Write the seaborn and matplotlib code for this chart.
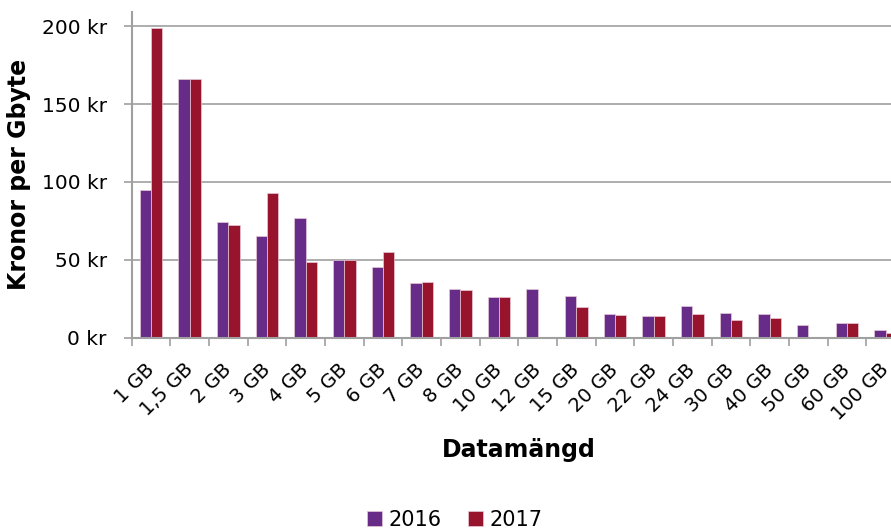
import numpy as np
import pandas as pd
import matplotlib
matplotlib.use("Agg")
import matplotlib.pyplot as plt
import seaborn as sns
from matplotlib.ticker import FixedLocator, FuncFormatter

# data
categories = ["1 GB", "1,5 GB", "2 GB", "3 GB", "4 GB", "5 GB", "6 GB", "7 GB",
              "8 GB", "10 GB", "12 GB", "15 GB", "20 GB", "22 GB", "24 GB",
              "30 GB", "40 GB", "50 GB", "60 GB", "100 GB"]
values_2016 = [95, 166, 74, 65, 77, 50, 45, 35, 31, 26, 31, 26.5, 15, 13.5,
               20.5, 16, 15, 8, 9.5, 5]
values_2017 = [199, 166, 72.5, 93, 48.5, 50, 55, 35.5, 30.5, 26, np.nan, 19.5,
               14.5, 13.5, 15, 11.5, 12.5, np.nan, 9.5, 3]
years = ["2016", "2017"]
colors = ["#662C88", "#98132C"]

df = pd.DataFrame({
    "Datamängd": categories * 2,
    "Kronor": values_2016 + values_2017,
    "År": [years[0]] * len(categories) + [years[1]] * len(categories),
})

sns.set_style("white")
plt.rcParams["font.family"] = ["DejaVu Sans"]
plt.rcParams["text.color"] = "black"
plt.rcParams["xtick.color"] = "black"
plt.rcParams["ytick.color"] = "black"
plt.rcParams["axes.labelcolor"] = "black"

fig = plt.figure(figsize=(8.91, 5.29), dpi=100)
ax = fig.add_axes([131.7 / 891, 1 - 337.5 / 529, 773.4 / 891, (337.5 - 11.5) / 529])

sns.barplot(data=df, x="Datamängd", y="Kronor", hue="År", palette=colors,
            width=0.587, gap=0, ax=ax, edgecolor="#e8c8d8", linewidth=0.5,
            saturation=1, legend=True)

ax.set_ylim(0, 209.5)
ax.set_xlim(-0.5, len(categories) - 0.5)
ax.yaxis.set_major_locator(FixedLocator([0, 50, 100, 150, 200]))
ax.yaxis.set_major_formatter(FuncFormatter(lambda v, p: f"{int(v)} kr"))
ax.grid(axis="y", color="#a0a0a0", linewidth=1.2)
ax.set_axisbelow(True)

for side in ["top", "right"]:
    ax.spines[side].set_visible(False)
for side in ["left", "bottom"]:
    ax.spines[side].set_color("#a0a0a0")
    ax.spines[side].set_linewidth(1.5)

ax.tick_params(axis="y", which="major", length=6, color="#a0a0a0", width=1.2,
               labelsize=14.5, labelcolor="black", pad=12, left=True)
ax.set_xticks(range(len(categories)))
ax.set_xticklabels(categories, rotation=45, ha="right", va="center",
                   rotation_mode="anchor", fontsize=14)
ax.tick_params(axis="x", which="major", length=0, pad=21, labelcolor="black")
ax.xaxis.set_minor_locator(FixedLocator(np.arange(-0.5, len(categories), 1.0)))
ax.tick_params(axis="x", which="minor", length=6, color="#a0a0a0", width=1.2,
               bottom=True)

ax.set_xlabel("Datamängd", fontsize=17, fontweight="bold")
ax.set_ylabel("Kronor per Gbyte", fontsize=17, fontweight="bold")
ax.xaxis.set_label_coords(0.5, (337.5 - 438) / 326)
ax.yaxis.set_label_coords((31 - 131.7) / 773.4, 0.5)

handles, labels = ax.get_legend_handles_labels()
ax.get_legend().remove()
fig.legend(handles, labels, loc="center", bbox_to_anchor=(454.5 / 891, 1 - 520 / 529),
           ncol=2, frameon=False, fontsize=15, handlelength=0.75, handleheight=0.75,
           handletextpad=0.3, columnspacing=1.25, borderaxespad=0)

fig.savefig("out.png", dpi=100)
